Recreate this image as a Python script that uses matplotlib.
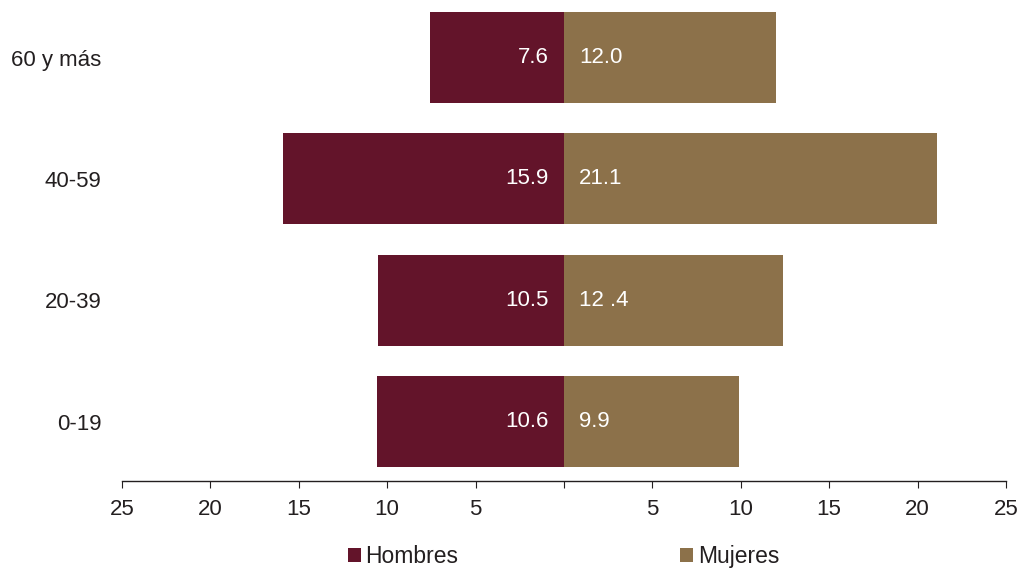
import matplotlib
matplotlib.use('Agg')
import matplotlib.pyplot as plt
import matplotlib.patches as mpatches
import numpy as np

plt.rcParams['font.family'] = ['Liberation Sans', 'DejaVu Sans']

# Age groups (bottom to top) and percentages
age_groups = ['0-19', '20-39', '40-59', '60 y más']
hombres = [10.6, 10.5, 15.9, 7.6]
mujeres = [9.9, 12.4, 21.1, 12.0]
hombres_labels = ['10.6', '10.5', '15.9', '7.6']
mujeres_labels = ['9.9', '12 .4', '21.1', '12.0']

tick_values = [-25, -20, -15, -10, -5, 0, 5, 10, 15, 20, 25]
tick_labels = ['25', '20', '15', '10', '5', '', '5', '10', '15', '20', '25']

color_h = '#63142A'
color_m = '#8C714A'
text_color = '#231f20'

fig = plt.figure(figsize=(10.19, 5.71), dpi=100)
ax = fig.add_axes([0.1197, 0.1576, 0.8675, 0.8424])

y = np.arange(len(age_groups))
ax.barh(y, [-v for v in hombres], height=0.75, color=color_h)
ax.barh(y, mujeres, height=0.75, color=color_m)

# Value labels inside bars, next to the centre line
for yi, lab in zip(y, hombres_labels):
    ax.annotate(lab, (0, yi), xytext=(-11, 0), textcoords='offset points',
                ha='right', va='center', color='white', fontsize=16)
for yi, lab in zip(y, mujeres_labels):
    ax.annotate(lab, (0, yi), xytext=(11, 0), textcoords='offset points',
                ha='left', va='center', color='white', fontsize=16)

ax.set_xlim(-25, 25)
ax.set_ylim(-0.49, 3.475)
ax.set_xticks(tick_values)
ax.set_xticklabels(tick_labels, fontsize=16, color=text_color)
ax.set_yticks(y)
ax.set_yticklabels(age_groups, fontsize=16, color=text_color)

for s in ['top', 'right', 'left']:
    ax.spines[s].set_visible(False)
ax.spines['bottom'].set_color(text_color)
ax.spines['bottom'].set_linewidth(1.0)
ax.tick_params(axis='x', direction='out', length=5, width=0.8, color=text_color, pad=8)
ax.tick_params(axis='y', length=0, pad=15)

# Legend at the bottom
handles = [
    mpatches.Patch(facecolor=color_h, label='Hombres'),
    mpatches.Patch(facecolor=color_m, label='Mujeres'),
]
fig.legend(handles=handles, loc='center', bbox_to_anchor=(0.553, 0.025), ncol=2,
           frameon=False, fontsize=16.5, handlelength=0.55, handleheight=0.55,
           handletextpad=0.2, columnspacing=9.7, labelcolor=text_color,
           borderpad=0)

fig.savefig('out.png', dpi=100)
